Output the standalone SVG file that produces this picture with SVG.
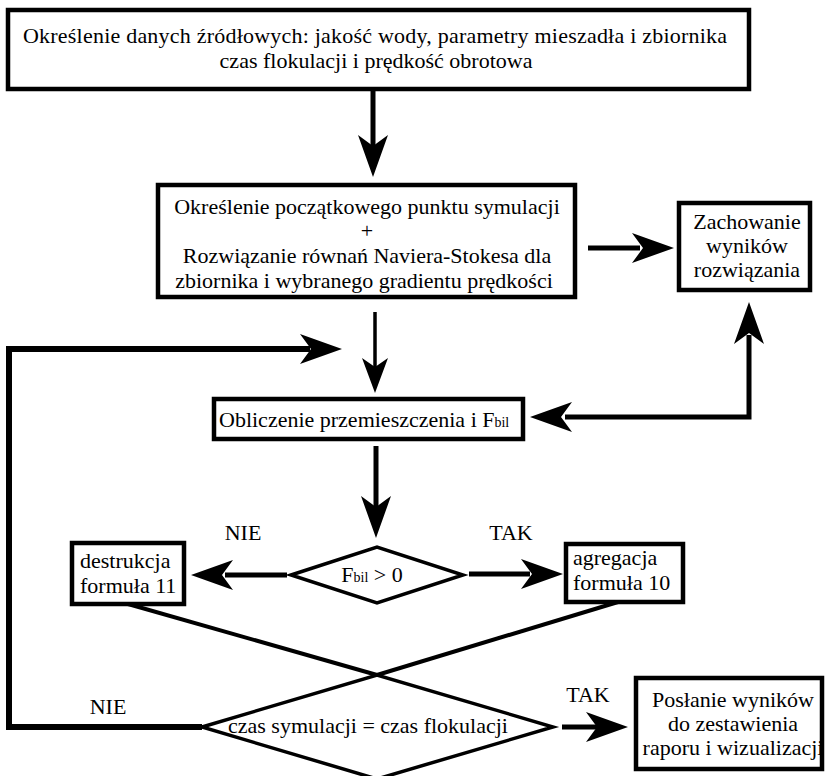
<svg xmlns="http://www.w3.org/2000/svg" width="827" height="776" viewBox="0 0 827 776">
<style>
  .box { fill: #fff; stroke: #000; stroke-width: 4.5; }
  .dia { fill: none; stroke: #000; stroke-width: 3.5; }
  .t { font-family: "Liberation Serif", "Times New Roman", serif; font-size: 22px; fill: #000; }
  .c { text-anchor: middle; }
  .sub { font-size: 14px; }
  .ln { fill: none; stroke: #000; stroke-width: 5; }
  .thin { stroke-width: 3.5; }
  .loop { stroke-width: 6; }
  .x { stroke-width: 4; }
  .head { fill: #000; }
</style>
<defs>
  <path id="ah" d="M0,0 L-42,-15 L-31,0 L-42,15 Z"/>
  <path id="ahs" d="M0,0 L-35,-13 L-26,0 L-35,13 Z"/>
</defs>
<rect width="827" height="776" fill="#fff"/>

<g id="connectors">
  <line class="ln" x1="373" y1="90" x2="373" y2="150"/>
  <use href="#ah" class="head" transform="translate(373,177) rotate(90)"/>

  <line class="ln" x1="588" y1="248" x2="640" y2="248"/>
  <use href="#ah" class="head" transform="translate(674,248)"/>

  <line class="ln thin" x1="375" y1="312" x2="375" y2="368"/>
  <use href="#ahs" class="head" transform="translate(375,393) rotate(90)"/>

  <polyline class="ln loop" points="202,727 9,727 9,349 310,349"/>
  <use href="#ah" class="head" transform="translate(342,349)"/>

  <polyline class="ln" points="749,335 749,417 565,417"/>
  <use href="#ah" class="head" transform="translate(749,302) rotate(-90)"/>
  <use href="#ah" class="head" transform="translate(530,417) rotate(180)"/>

  <line class="ln" x1="376" y1="446" x2="376" y2="508"/>
  <use href="#ah" class="head" transform="translate(376,538) rotate(90)"/>

  <line class="ln" x1="287" y1="575" x2="225" y2="575"/>
  <use href="#ah" class="head" transform="translate(191,575) rotate(180)"/>

  <line class="ln" x1="469" y1="574" x2="530" y2="574"/>
  <use href="#ah" class="head" transform="translate(563,574)"/>

  <line class="ln x" x1="128" y1="604" x2="377" y2="675"/>
  <line class="ln x" x1="618" y1="602" x2="377" y2="675"/>

  <line class="ln" x1="562" y1="727" x2="600" y2="727"/>
  <use href="#ah" class="head" transform="translate(628,727)"/>

  <text class="t c" x="243" y="540">NIE</text>
  <text class="t c" x="511" y="540">TAK</text>
  <text class="t c" x="108" y="714">NIE</text>
  <text class="t c" x="588" y="702">TAK</text>
</g>

<g id="n1">
  <rect class="box" x="8" y="10" width="741" height="79"/>
  <text class="t c" x="375" y="43" textLength="704" lengthAdjust="spacing">Określenie danych źródłowych: jakość wody, parametry mieszadła i zbiornika</text>
  <text class="t c" x="376" y="68">czas flokulacji i prędkość obrotowa</text>
</g>

<g id="n2">
  <rect class="box" x="158" y="185" width="417" height="112"/>
  <text class="t c" x="367" y="214">Określenie początkowego punktu symulacji</text>
  <text class="t c" x="367" y="238">+</text>
  <text class="t c" x="367" y="263">Rozwiązanie równań Naviera-Stokesa dla</text>
  <text class="t c" x="364" y="288">zbiornika i wybranego gradientu prędkości</text>
</g>

<g id="n3">
  <rect class="box" x="679" y="203" width="131" height="87"/>
  <text class="t c" x="747" y="229">Zachowanie</text>
  <text class="t c" x="747" y="253">wyników</text>
  <text class="t c" x="747" y="277">rozwiązania</text>
</g>

<g id="n4">
  <rect class="box" x="214" y="399" width="309" height="40"/>
  <text class="t" x="219" y="427">Obliczenie przemieszczenia i F<tspan class="sub">bil</tspan></text>
</g>

<g id="d1">
  <polygon class="dia" points="291,575 377,547 463,575 377,603"/>
  <text class="t c" x="372" y="582">F<tspan class="sub">bil</tspan> &gt; 0</text>
</g>

<g id="n5">
  <rect class="box" x="72" y="543" width="112" height="61"/>
  <text class="t" x="80" y="568">destrukcja</text>
  <text class="t" x="80" y="593">formuła 11</text>
</g>

<g id="n6">
  <rect class="box" x="566" y="544" width="117" height="58"/>
  <text class="t" x="573" y="565">agregacja</text>
  <text class="t" x="573" y="590">formuła 10</text>
</g>

<g id="d2">
  <polygon class="dia" points="202,727 377,675 553,727 377,779"/>
  <text class="t c" x="368" y="733">czas symulacji = czas flokulacji</text>
</g>

<g id="n7">
  <rect class="box" x="636" y="678" width="186" height="91"/>
  <text class="t c" x="733" y="707">Posłanie wyników</text>
  <text class="t c" x="733" y="731">do zestawienia</text>
  <text class="t c" x="733" y="755">raporu i wizualizacji</text>
</g>
</svg>
